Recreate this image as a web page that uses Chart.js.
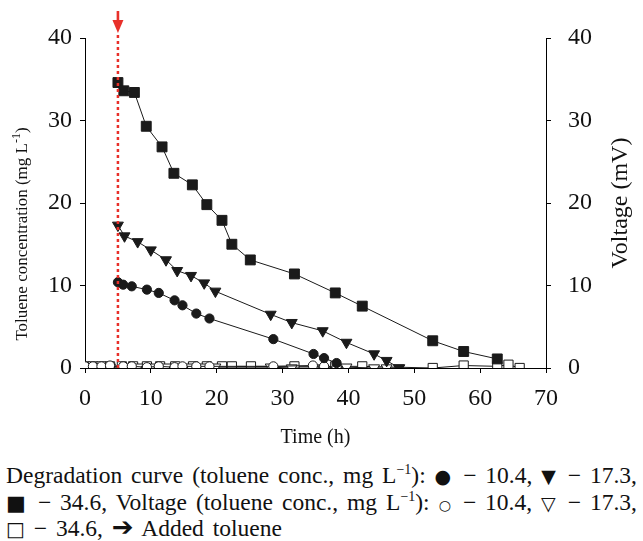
<!DOCTYPE html>
<html>
<head>
<meta charset="utf-8">
<script src="https://cdn.jsdelivr.net/npm/chart.js@4.4.0/dist/chart.umd.min.js"></script>
<style>
  body { margin:0; background:#fff; width:643px; height:541px; overflow:hidden; position:relative; }
  #wrap { position:absolute; left:0; top:0; width:643px; height:455px; }
  #note { position:absolute; left:6px; top:462px; width:631px; font-family:"Liberation Serif","Times New Roman",serif;
          font-size:23.5px; line-height:26.5px; color:#111; white-space:nowrap; }
  #note div { text-align:justify; text-align-last:justify; }
  #note div.last { text-align:left; text-align-last:left; word-spacing:3px; }
  #note sup { font-size:14px; line-height:0; vertical-align:9px; }
  .sym { font-family:"DejaVu Sans",sans-serif; font-size:19px; line-height:0; }
</style>
</head>
<body>
<div id="wrap"><canvas id="myChart" width="643" height="455"></canvas></div>
<div id="note">
<div>Degradation curve (toluene conc., mg L<sup>&minus;1</sup>): <span class="sym">&#9679;</span> &minus; 10.4, <span class="sym">&#9660;</span> &minus; 17.3,</div>
<div><span class="sym" style="font-size:21px">&#9632;</span> &minus; 34.6, Voltage (toluene conc., mg L<sup>&minus;1</sup>): <span class="sym" style="font-size:14px">&#9675;</span> &minus; 10.4, <span class="sym">&#9661;</span> &minus; 17.3,</div>
<div class="last"><span class="sym" style="font-size:20px">&#9633;</span> &minus; 34.6, <span class="sym" style="font-size:26px">&#10132;</span> Added toluene</div>
</div>
<script>
// degradation curves (mg/L)
var timeCir = [5, 5.8, 7.1, 9.4, 11.2, 13.6, 14.8, 16.9, 18.9, 28.6, 34.7, 36.3, 38.2]
var concCir = [10.4, 10.1, 9.9, 9.5, 9.1, 8.2, 7.6, 6.6, 6.0, 3.5, 1.7, 1.2, 0.6]

var timeTri = [5, 6.0, 8.0, 10.0, 12.3, 14.0, 16.1, 18.1, 19.8, 28.2, 31.4, 36.1, 39.7, 43.9, 45.8, 47.7]
var concTri = [17.3, 16.0, 15.3, 14.3, 13.1, 11.8, 11.2, 10.3, 9.3, 6.5, 5.5, 4.5, 3.1, 1.7, 0.9, 0.0]

var timeSq = [5, 5.9, 7.5, 9.3, 11.7, 13.5, 16.3, 18.5, 20.8, 22.3, 25.1, 31.8, 38.0, 42.1, 52.8, 57.5, 62.6]
var concSq = [34.6, 33.6, 33.4, 29.3, 26.8, 23.6, 22.2, 19.8, 17.9, 15.0, 13.1, 11.4, 9.1, 7.5, 3.3, 2.0, 1.1]

// voltage (mV)
var vTimeCir = [0, 1.2, 2.5, 3.8, 5.8, 7.1, 9.4, 11.2, 13.6, 14.8, 16.9, 18.9, 28.6, 34.6, 36.3, 38.2]
var voltCir = [0.2, 0.2, 0.2, 0.3, 0.2, 0.2, 0.1, 0.2, 0.1, 0.2, 0.2, 0.2, 0.2, 0.3, 0.2, 0.1]

var vTimeTri = [0, 1.2, 2.5, 3.8, 6.0, 8.0, 10.0, 12.3, 14.0, 16.1, 18.1, 19.8, 28.2, 31.4, 36.1, 39.7, 43.9, 45.8, 47.7]
var voltTri = [0.1, 0.1, 0.1, 0.1, 0.1, 0.1, 0.1, 0.1, 0.1, 0.1, 0.1, 0.1, 0.1, 0.0, 0.0, 0.1, 0.0, 0.0, 0.0]

var vTimeSq = [0, 1.2, 2.5, 3.8, 5.6, 7.3, 9.4, 11.4, 13.7, 16.4, 18.5, 20.8, 22.3, 25.2, 31.8, 38.0, 42.1, 52.8, 57.5, 62.6, 64.3, 66.0]
var voltSq = [0.2, 0.2, 0.2, 0.2, 0.2, 0.2, 0.2, 0.2, 0.2, 0.2, 0.2, 0.2, 0.2, 0.2, 0.2, 0.2, 0.2, 0.0, 0.3, 0.2, 0.4, 0.0]

var addedAt = 5
var xTicks = [0, 10, 20, 30, 40, 50, 60, 70]
var yTicks = [0, 10, 20, 30, 40]

function pts(xs, ys) {
  return xs.map(function (x, i) { return { x: x, y: ys[i] } })
}

var serif = '"Liberation Serif","Times New Roman",serif'
var ink = '#1a1a1a'
var red = '#e8302a'

function series(xs, ys, style, r, filled, axis, rot) {
  return {
    data: pts(xs, ys),
    yAxisID: axis,
    borderColor: ink,
    borderWidth: 1,
    pointStyle: style,
    rotation: rot || 0,
    pointRadius: r,
    pointBackgroundColor: filled ? ink : '#fff',
    pointBorderColor: ink,
    pointBorderWidth: 1,
    tension: 0
  }
}

var titles = {
  id: 'titles',
  afterDraw: function (chart) {
    var c = chart.ctx, a = chart.chartArea
    var x5 = chart.scales.x.getPixelForValue(addedAt)
    c.save()
    c.fillStyle = '#111'
    c.font = '20px ' + serif
    c.textAlign = 'center'
    c.textBaseline = 'middle'
    c.fillText('Time (h)', (a.left + a.right) / 2, 438)

    // left title with superscript
    var main = 'Toluene concentration (mg L', sup = '-1', tail = ')'
    c.font = '17px ' + serif
    var w1 = c.measureText(main).width, w3 = c.measureText(tail).width
    c.font = '12px ' + serif
    var w2 = c.measureText(sup).width
    var total = w1 + w2 + w3
    c.translate(23, 234)
    c.rotate(-Math.PI / 2)
    c.textAlign = 'left'
    c.font = '17px ' + serif
    c.fillText(main, -total / 2, 0)
    c.font = '12px ' + serif
    c.fillText(sup, -total / 2 + w1, -6)
    c.font = '17px ' + serif
    c.fillText(tail, -total / 2 + w1 + w2, 0)
    c.restore()

    c.save()
    c.fillStyle = '#111'
    c.font = '24px ' + serif
    c.textAlign = 'center'
    c.textBaseline = 'middle'
    c.translate(621, (a.top + a.bottom) / 2)
    c.rotate(-Math.PI / 2)
    c.fillText('Voltage (mV)', 0, 0)
    c.restore()

    // red arrow for added toluene
    c.save()
    c.fillStyle = red
    c.fillRect(x5 - 1.3, 11, 2.6, 11)
    c.beginPath()
    c.moveTo(x5 - 5.5, 20)
    c.lineTo(x5 + 5.5, 20)
    c.lineTo(x5, 33)
    c.closePath()
    c.fill()
    c.restore()
  }
}

var ctx = document.getElementById('myChart')
var chart = new Chart(ctx, {
  type: 'line',
  data: {
    datasets: [
      {
        data: [{ x: addedAt, y: 0 }, { x: addedAt, y: 40.4 }],
        yAxisID: 'y',
        borderColor: red,
        borderWidth: 2.5,
        borderDash: [3, 3],
        pointRadius: 0,
        clip: false
      },
      series(timeCir, concCir, 'circle', 4.6, true, 'y'),
      series(timeTri, concTri, 'triangle', 6.3, true, 'y', 180),
      series(timeSq, concSq, 'rect', 7, true, 'y'),
      series(vTimeCir, voltCir, 'circle', 4.6, false, 'y2'),
      series(vTimeTri, voltTri, 'triangle', 6.3, false, 'y2', 180),
      series(vTimeSq, voltSq, 'rect', 6.5, false, 'y2')
    ]
  },
  options: {
    responsive: false,
    animation: false,
    devicePixelRatio: 1,
    layout: { padding: { top: 38, left: 0, right: 0, bottom: 0 } },
    plugins: { legend: { display: false }, tooltip: { enabled: false } },
    scales: {
      x: {
        type: 'linear', min: 0, max: 70,
        afterBuildTicks: function (s) { s.ticks = xTicks.map(function (v) { return { value: v } }) },
        afterFit: function (s) { s.height = 87 },
        grid: { drawOnChartArea: false, tickLength: 5, color: '#000' },
        border: { color: '#000', width: 1 },
        ticks: { color: '#111', padding: 11, font: { family: serif, size: 24 } }
      },
      y: {
        position: 'left', min: 0, max: 40,
        afterBuildTicks: function (s) { s.ticks = yTicks.map(function (v) { return { value: v } }) },
        afterFit: function (s) { s.width = 85 },
        grid: { drawOnChartArea: false, tickLength: 5, color: '#000' },
        border: { color: '#000', width: 1 },
        ticks: { color: '#111', padding: 8, font: { family: serif, size: 24 } }
      },
      y2: {
        position: 'right', min: 0, max: 40,
        afterBuildTicks: function (s) { s.ticks = yTicks.map(function (v) { return { value: v } }) },
        afterFit: function (s) { s.width = 97 },
        grid: { drawOnChartArea: false, tickLength: 5, color: '#000' },
        border: { color: '#000', width: 1 },
        ticks: { color: '#111', padding: 17, font: { family: serif, size: 24 } }
      }
    }
  },
  plugins: [titles]
})
</script>
</body>
</html>
